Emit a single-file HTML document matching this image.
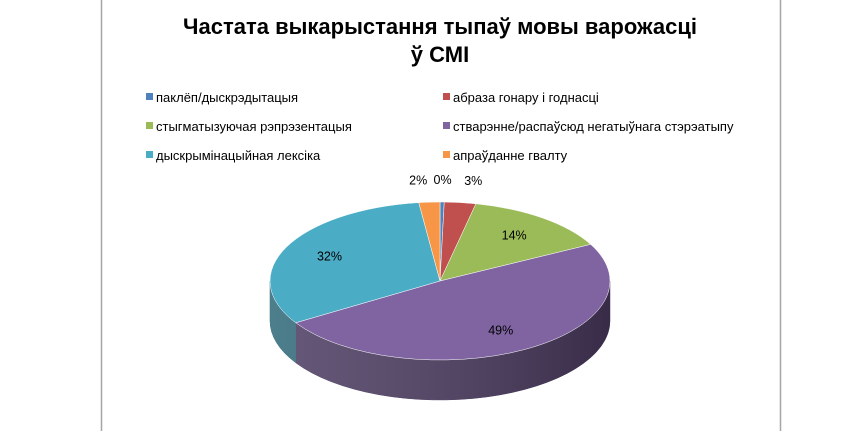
<!DOCTYPE html>
<html><head><meta charset="utf-8"><style>
body{margin:0;background:#fff;width:850px;height:431px;overflow:hidden;font-family:"Liberation Sans","DejaVu Sans",sans-serif}
</style></head><body>
<svg id="chart" width="850" height="431" viewBox="0 0 850 431" xmlns="http://www.w3.org/2000/svg">
<line x1="101.5" y1="0" x2="101.5" y2="431" stroke="#a6a6a6" stroke-width="1.5"/>
<line x1="780.5" y1="0" x2="780.5" y2="431" stroke="#a6a6a6" stroke-width="1.5"/>
<text text-anchor="middle" font-size="22" font-weight="bold" fill="#000"><tspan x="440" y="34">Частата выкарыстання тыпаў мовы варожасці</tspan><tspan x="440" y="62">ў СМІ</tspan></text>
<g id="legend"></g>
<g id="sides"></g>
<g id="tops"></g>
<g id="labels" font-size="12.5" fill="#000"></g>
</svg>
<script>
const categories = ["паклёп/дыскрэдытацыя","абраза гонару і годнасці","стыгматызуючая рэпрэзентацыя","стварэнне/распаўсюд негатыўнага стэрэатыпу","дыскрымінацыйная лексіка","апраўданне гвалту"];
const values = [0.4, 3, 14, 49, 32, 2];
const valueLabels = ["0%","3%","14%","49%","32%","2%"];
const colors = ["#4f81bd","#c0504d","#9bbb59","#8064a2","#4bacc6","#f79646"];
const darks = ["#2f4d72","#73302e","#5d7035","#4a3a60","#2d6777","#94592a"];
const NS="http://www.w3.org/2000/svg";
const cx=440, cy=281, rx=170, ry=79, depth=40;
const total=values.reduce((a,b)=>a+b,0);
function pt(deg,dy){const r=deg*Math.PI/180;return [cx+rx*Math.sin(r), cy-ry*Math.cos(r)+(dy||0)];}
function mk(tag,attrs,parent){const e=document.createElementNS(NS,tag);for(const k in attrs)e.setAttribute(k,attrs[k]);parent.appendChild(e);return e;}
const lg=document.getElementById('legend');
categories.forEach((c,i)=>{
  const col=i%2, row=Math.floor(i/2);
  const x=col?443:146, y=102+row*29;
  const g=mk('g',{},lg);
  
  
  mk('rect',{x:x,y:y-9,width:7,height:7,fill:colors[i]},g);
  const t=mk('text',{x:x+10,y:y,'font-size':13,fill:'#000'},g);t.textContent=c;
});
let a=0;
const sides=document.getElementById('sides'), tops=document.getElementById('tops'), labels=document.getElementById('labels');
values.forEach((v,i)=>{
  const s=a, e=a+v/total*360; a=e;
  const ss=Math.max(s,90), ee=Math.min(e,270);
  if(ee>ss){
    const p1=pt(ss),p2=pt(ee),p3=pt(ee,depth),p4=pt(ss,depth);
    const sp=mk('path',{d:`M${p1} A${rx},${ry} 0 0 1 ${p2} L${p3} A${rx},${ry} 0 0 0 ${p4} Z`,fill:darks[i],stroke:darks[i],'stroke-width':0.5},sides);
    
    
  }
  const p1=pt(s),p2=pt(e),large=(e-s)>180?1:0;
  const tp=mk('path',{d:`M${cx},${cy} L${p1} A${rx},${ry} 0 ${large} 1 ${p2} Z`,fill:colors[i],stroke:'#fff','stroke-width':0.5},tops);
  
  
  const m=(s+e)/2, pct=v/total;
  const small=pct<0.05;
  const f=small?1.2:0.72;
  const r=m*Math.PI/180;
  let lx=cx+rx*f*Math.sin(r), ly=cy-ry*f*Math.cos(r)+4;
  let anchor='middle';
  if(small){ly-=6; const sn=Math.sin(r); if(sn<-0.02)anchor='end'; else if(sn>0.1)anchor='start';}
  const t=mk('text',{x:lx,y:ly,'text-anchor':anchor},labels);
  
  
  t.textContent=valueLabels[i];
});
const defs=mk('defs',{},document.getElementById('chart'));
const gr=mk('linearGradient',{id:'sh',x1:0,x2:1,y1:0,y2:0},defs);
mk('stop',{offset:0,'stop-color':'#fff','stop-opacity':0.15},gr);
mk('stop',{offset:1,'stop-color':'#000','stop-opacity':0.25},gr);
const l=pt(270),rr=pt(90),lb=pt(270,depth),rb=pt(90,depth);
const ov=mk('path',{d:`M${rr} A${rx},${ry} 0 0 1 ${l} L${lb} A${rx},${ry} 0 0 0 ${rb} Z`,fill:'url(#sh)'},sides);


</script>
</body></html>
